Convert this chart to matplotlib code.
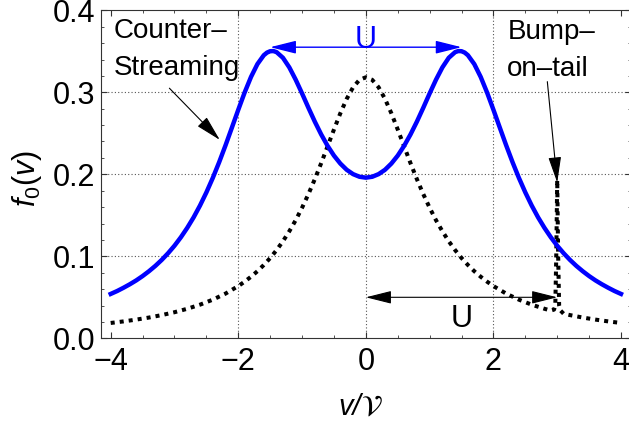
import matplotlib
matplotlib.use("Agg")
import matplotlib.pyplot as plt
from matplotlib.ticker import MultipleLocator

plt.rcParams['font.family'] = ['Liberation Sans', 'DejaVu Sans']
plt.rcParams['mathtext.fontset'] = 'custom'
plt.rcParams['mathtext.rm'] = 'Liberation Sans'
plt.rcParams['mathtext.it'] = 'Liberation Sans:italic'

# counter-streaming distribution, symmetric in v (right half listed)
v_cs_half = [0.0, 0.1, 0.2, 0.3, 0.4, 0.5, 0.6, 0.7, 0.8, 0.9, 1.0, 1.1, 1.2,
             1.3, 1.4, 1.45, 1.5, 1.55, 1.6, 1.7, 1.8, 1.9, 2.0, 2.1, 2.2,
             2.3, 2.4, 2.5, 2.6, 2.7, 2.8, 2.9, 3.0, 3.1, 3.2, 3.3, 3.4, 3.5,
             3.6, 3.7, 3.8, 3.9, 4.0]
f_cs_half = [0.1959, 0.1970, 0.2002, 0.2055, 0.2131, 0.2228, 0.2347, 0.2486,
             0.2642, 0.2811, 0.2986, 0.3154, 0.3304, 0.3421, 0.3490, 0.3503,
             0.3501, 0.3484, 0.3452, 0.3344, 0.3188, 0.2998, 0.2787, 0.2569,
             0.2353, 0.2147, 0.1955, 0.1779, 0.1619, 0.1475, 0.1347, 0.1232,
             0.1129, 0.1038, 0.0956, 0.0883, 0.0818, 0.0759, 0.0706, 0.0659,
             0.0616, 0.0576, 0.0541]
v_cs = [-v for v in v_cs_half[:0:-1]] + v_cs_half
f_cs = f_cs_half[:0:-1] + f_cs_half

# core distribution, symmetric part
v_core_half = [0.0, 0.1, 0.2, 0.3, 0.4, 0.5, 0.6, 0.7, 0.8, 0.9, 1.0, 1.1,
               1.2, 1.3, 1.4, 1.5, 1.6, 1.7, 1.8, 1.9, 2.0, 2.2, 2.4, 2.6,
               2.8, 3.0, 3.2, 3.4, 3.6, 3.8, 4.0]
f_core_half = [0.3183, 0.3152, 0.3061, 0.2920, 0.2744, 0.2546, 0.2341, 0.2136,
               0.1941, 0.1759, 0.1592, 0.1440, 0.1305, 0.1183, 0.1075, 0.0979,
               0.0894, 0.0818, 0.0751, 0.0691, 0.0637, 0.0545, 0.0471, 0.0410,
               0.0360, 0.0318, 0.0283, 0.0253, 0.0228, 0.0206, 0.0187]
# narrow bump on the tail near v = 3
v_bump = [2.9, 2.95, 2.97, 2.985, 3.0, 3.015, 3.03, 3.05, 3.1]
f_bump = [0.0338, 0.0350, 0.0400, 0.1000, 0.1930, 0.1000, 0.0400, 0.0340, 0.0300]

i_bump = v_core_half.index(3.0)
v_bt = ([-v for v in v_core_half[:0:-1]] + v_core_half[:i_bump]
        + v_bump + v_core_half[i_bump + 1:])
f_bt = f_core_half[:0:-1] + f_core_half[:i_bump] + f_bump + f_core_half[i_bump + 1:]

grid_x = [-2, 0, 2]
grid_y = [0.1, 0.2, 0.3]

fig = plt.figure(figsize=(6.29, 4.23), dpi=100)
ax = fig.add_axes([101 / 629, (423 - 338.3) / 423, 529.7 / 629, 328 / 423])

for gx in grid_x:
    ax.axvline(gx, color='#555555', lw=0.8, ls=(0, (1, 2)), zorder=0)
for gy in grid_y:
    ax.axhline(gy, color='#555555', lw=0.8, ls=(0, (1, 2)), zorder=0)

ax.plot(v_cs, f_cs, color='blue', lw=3.2, solid_joinstyle='round', zorder=3)
ax.plot(v_bt, f_bt, color='black', lw=2.9, ls=(0, (1, 1.25)), zorder=2)

head = dict(shrinkA=0, shrinkB=0, mutation_scale=20)
ax.annotate('', xy=(1.5, 0.355), xytext=(-1.5, 0.355),
            arrowprops=dict(arrowstyle='<|-|>,head_length=0.8,head_width=0.2',
                            color='blue', lw=1.0, **head))
ax.text(0, 0.3545, 'U', color='blue', fontsize=22, ha='center', va='baseline')

ax.annotate('', xy=(3.0, 0.05), xytext=(0.0, 0.05),
            arrowprops=dict(arrowstyle='<|-|>,head_length=0.8,head_width=0.2',
                            color='black', lw=0.8, **head))
ax.text(1.5, 0.0141, 'U', color='black', fontsize=22, ha='center', va='baseline')

ax.annotate('', xy=(-2.29, 0.242), xytext=(-3.08, 0.305),
            arrowprops=dict(arrowstyle='-|>,head_length=0.8,head_width=0.2',
                            color='black', lw=0.8, **head))
ax.annotate('', xy=(3.0, 0.19), xytext=(2.845, 0.313),
            arrowprops=dict(arrowstyle='-|>,head_length=0.8,head_width=0.2',
                            color='black', lw=0.8, **head))

ax.text(-3.947, 0.366, 'Counter–', fontsize=20, va='baseline')
ax.text(-3.947, 0.321, 'Streaming', fontsize=20, va='baseline')
ax.text(2.218, 0.3646, 'Bump–', fontsize=20, va='baseline')
ax.text(2.218, 0.320, 'on–tail', fontsize=20, va='baseline')

ax.set_xlim(-4.152, 4.152)
ax.set_ylim(0, 0.4)
ax.set_xticks([-4, -2, 0, 2, 4])
ax.set_yticks([0.0, 0.1, 0.2, 0.3, 0.4])
ax.set_yticklabels(['0.0', '0.1', '0.2', '0.3', '0.4'])
ax.xaxis.set_minor_locator(MultipleLocator(0.5))
ax.yaxis.set_minor_locator(MultipleLocator(0.02))
ax.tick_params(which='both', direction='in', top=True, right=True,
               color='#333333', labelsize=22)
ax.tick_params(which='major', length=4.5, width=0.8)
ax.tick_params(which='minor', length=2.5, width=0.6)
ax.tick_params(axis='x', pad=6)
ax.tick_params(axis='y', pad=4)
for sp in ax.spines.values():
    sp.set_color('#333333')
    sp.set_linewidth(0.8)

fig.text(27 / 629, 1 - 179 / 423, r'$f_0(v)$', fontsize=22,
         rotation=90, ha='center', va='center')
fig.text(361 / 629, 8 / 423, 'v/', fontsize=21, style='italic',
         ha='right', va='baseline')
fig.text(361 / 629, 8 / 423, r'$\mathcal{V}$', fontsize=21,
         math_fontfamily='stix', ha='left', va='baseline')

fig.savefig('out.png', dpi=100)
